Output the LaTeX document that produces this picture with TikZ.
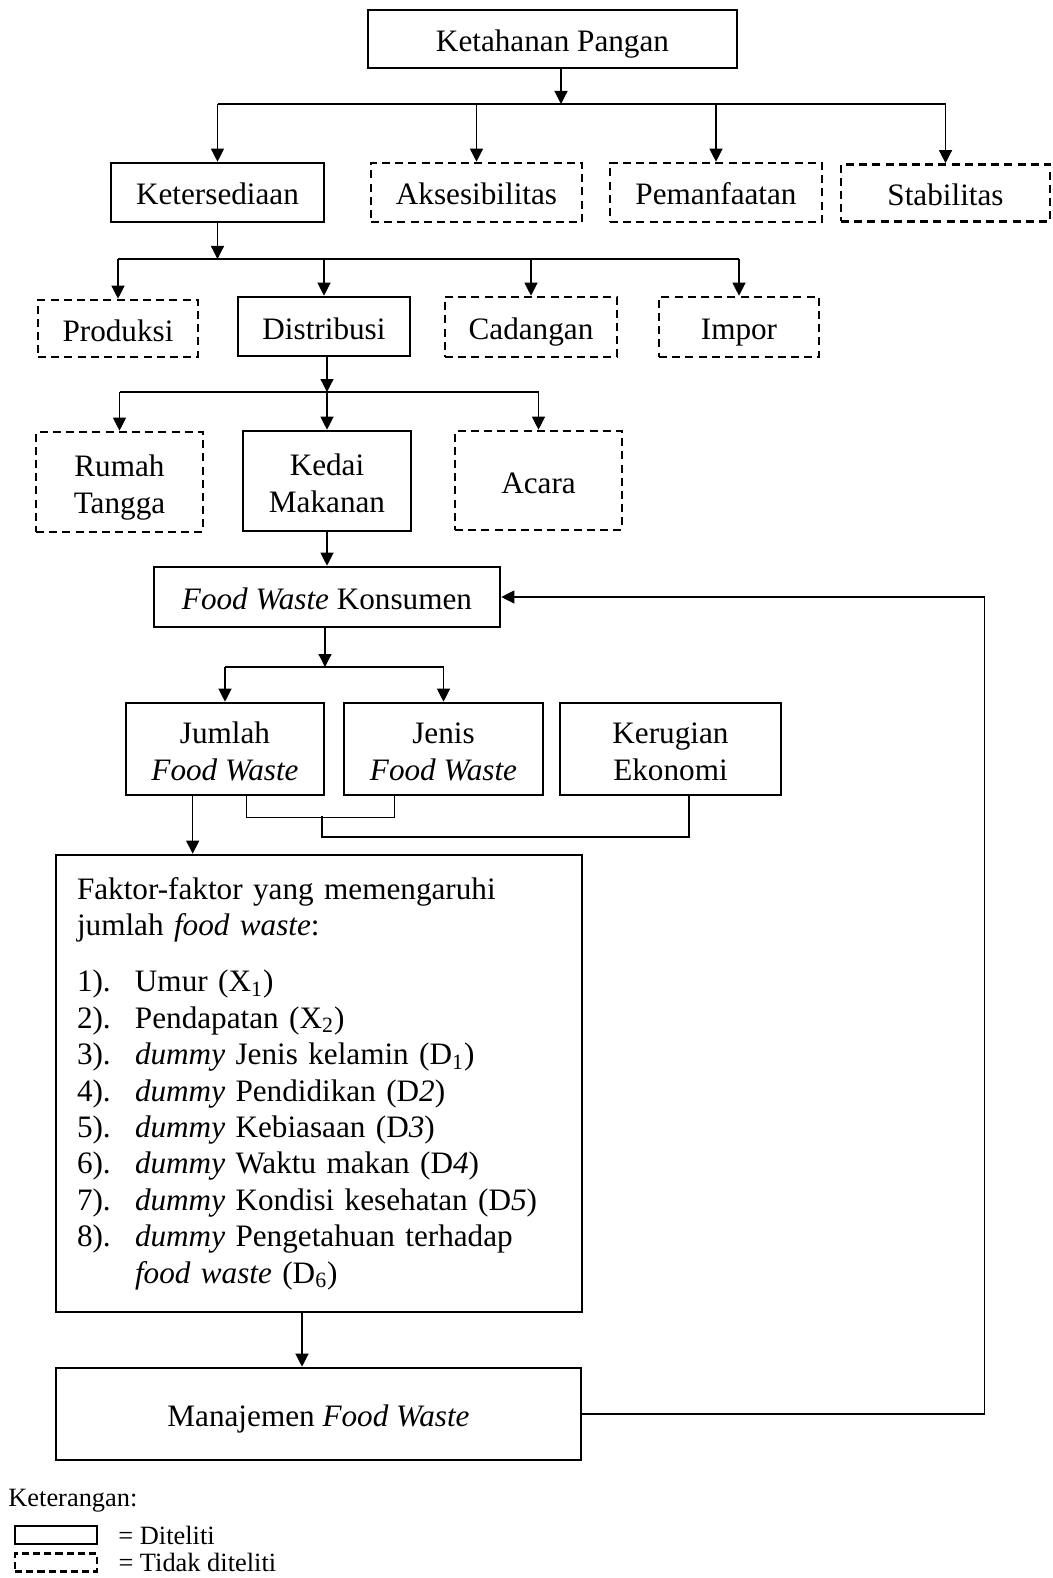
\documentclass[tikz,border=0pt]{standalone}
\usepackage{fontspec}
\setmainfont{Liberation Serif}
\usetikzlibrary{arrows.meta,positioning}

\newcommand{\butir}[1]{\makebox[29pt][l]{#1}}

\begin{document}
\begin{tikzpicture}[x=0.5pt,y=-0.5pt,
  every node/.style={font=\fontsize{15.6}{18.2}\selectfont},
  kotak/.style={draw=black, line width=1.3pt, inner sep=0pt},
  kotakputus/.style={kotak, dash pattern=on 4pt off 2.6pt},
  isi/.style={align=center, text height=16.5pt, text depth=4pt},
  diteliti/.style={kotak, isi},
  tidak/.style={kotakputus, isi},
  duabaris/.style={text height=35.2pt},
  panah/.style={draw=black, line width=0.6pt, -{Triangle[length=6.5pt,width=6.5pt]}},
  garis/.style={draw=black, line width=0.6pt}]
\useasboundingbox (0,0) rectangle (1053,1578);

% level 1
\node [diteliti, minimum width=184.5pt, minimum height=29pt] (ketahanan) at (552.5,39) {Ketahanan Pangan};
\node [diteliti, minimum width=106.5pt, minimum height=29.5pt] (ketersediaan) at (217.5,192.5) {Ketersediaan};
\node [tidak, minimum width=105.5pt, minimum height=29.5pt] (aksesibilitas) at (476.5,192.5) {Aksesibilitas};
\node [tidak, minimum width=106pt, minimum height=29.5pt] (pemanfaatan) at (716,192.5) {Pemanfaatan};
\node [tidak, minimum width=104.5pt, minimum height=28.5pt] (stabilitas) at (945.5,193) {Stabilitas};

% level 2
\node [tidak, minimum width=80pt, minimum height=28.5pt] (produksi) at (118,328.5) {Produksi};
\node [diteliti, minimum width=86pt, minimum height=29.5pt] (distribusi) at (324,326.5) {Distribusi};
\node [tidak, minimum width=86pt, minimum height=30pt] (cadangan) at (531,327) {Cadangan};
\node [tidak, minimum width=80pt, minimum height=30pt] (impor) at (739,327) {Impor};

% level 3
\node [tidak, duabaris, minimum width=83.5pt, minimum height=50pt] (rumah) at (119.5,482) {Rumah\\Tangga};
\node [diteliti, duabaris, minimum width=84pt, minimum height=50pt] (kedai) at (327,481) {Kedai\\Makanan};
\node [tidak, minimum width=83.5pt, minimum height=49.5pt] (acara) at (538.5,480.5) {Acara};

\node [diteliti, minimum width=173pt, minimum height=30pt] (fwk) at (327,597) {\textit{Food Waste} Konsumen};

\node [diteliti, duabaris, minimum width=99pt, minimum height=46pt] (jumlah) at (225,749) {Jumlah\\\textit{Food Waste}};
\node [diteliti, duabaris, minimum width=99.5pt, minimum height=46pt] (jenis) at (443.5,749) {Jenis\\\textit{Food Waste}};
\node [diteliti, duabaris, minimum width=110.5pt, minimum height=46pt] (kerugian) at (670.5,749) {Kerugian\\Ekonomi};

\node [kotak, minimum width=263pt, minimum height=228.5pt, text width=242pt, align=left, inner xsep=10.5pt] (faktor) at (319,1083.5) {%
Faktor-faktor yang memengaruhi\\
jumlah \textit{food waste}:\\[10pt]
\butir{1).}Umur (X\textsubscript{1})\\
\butir{2).}Pendapatan (X\textsubscript{2})\\
\butir{3).}\textit{dummy} Jenis kelamin (D\textsubscript{1})\\
\butir{4).}\textit{dummy} Pendidikan (D\textit{2})\\
\butir{5).}\textit{dummy} Kebiasaan (D\textit{3})\\
\butir{6).}\textit{dummy} Waktu makan (D\textit{4})\\
\butir{7).}\textit{dummy} Kondisi kesehatan (D\textit{5})\\
\butir{8).}\textit{dummy} Pengetahuan terhadap\\
\butir{}\textit{food waste} (D\textsubscript{6})};

\node [diteliti, minimum width=262.5pt, minimum height=46pt] (manajemen) at (318.5,1414) {Manajemen \textit{Food Waste}};

% cabang
\coordinate (cab1) at (561,104);
\coordinate (cab2) at (217,259);
\coordinate (cab3) at (327,392);
\coordinate (cab4) at (325,667);

\draw [panah] (ketahanan.south -| cab1) -- (cab1);
\draw [garis] (ketersediaan.north |- cab1) -- (stabilitas.north |- cab1);
\foreach \n in {ketersediaan,aksesibilitas,pemanfaatan,stabilitas}
  \draw [panah] (\n.north |- cab1) -- (\n.north);

\draw [panah] (ketersediaan.south) -- (ketersediaan.south |- cab2);
\draw [garis] (produksi.north |- cab2) -- (impor.north |- cab2);
\foreach \n in {produksi,distribusi,cadangan,impor}
  \draw [panah] (\n.north |- cab2) -- (\n.north);

\draw [panah] (distribusi.south -| cab3) -- (cab3);
\draw [garis] (rumah.north |- cab3) -- (acara.north |- cab3);
\foreach \n in {rumah,kedai,acara}
  \draw [panah] (\n.north |- cab3) -- (\n.north);

\draw [panah] (kedai.south) -- (fwk.north -| kedai.south);

\draw [panah] (fwk.south -| cab4) -- (cab4);
\draw [garis] (jumlah.north |- cab4) -- (jenis.north |- cab4);
\foreach \n in {jumlah,jenis}
  \draw [panah] (\n.north |- cab4) -- (\n.north);

% jumlah, jenis, kerugian
\coordinate (kiri) at ([xshift=61pt]jumlah.south west);
\coordinate (kanan) at ([xshift=26pt]jenis.south west);
\coordinate (tengah) at (322,816);
\draw [garis] (kiri) -- ++(0,21) -| (kanan);
\draw [garis] (tengah) -- ++(0,21) -| ([xshift=9.25pt]kerugian.south);

\draw [panah] ([xshift=34pt]jumlah.south west) -- ([xshift=34pt]jumlah.south west |- faktor.north);
\draw [panah] ([xshift=-8.5pt]faktor.south) -- ([xshift=-8.5pt]faktor.south |- manajemen.north);

% umpan balik
\draw [panah] (manajemen.east) -- ++(402,0) |- (fwk.east);

% keterangan
\node [anchor=west, inner sep=0pt, font=\fontsize{13.2}{15}\selectfont] (ket) at (8,1501) {Keterangan:};
\node [kotak, line width=1pt, minimum width=41pt, minimum height=9pt] (lgd1) at (56,1535) {};
\node [kotakputus, line width=1.1pt, dash pattern=on 3.6pt off 2pt, minimum width=41pt, minimum height=9pt] (lgd2) at (56,1562.5) {};
\node [right=10pt of lgd1, inner sep=0pt, font=\fontsize{13.2}{15}\selectfont] (lgdt1) {= Diteliti};
\node [right=10pt of lgd2, inner sep=0pt, font=\fontsize{13.2}{15}\selectfont] (lgdt2) {= Tidak diteliti};
\end{tikzpicture}
\end{document}
